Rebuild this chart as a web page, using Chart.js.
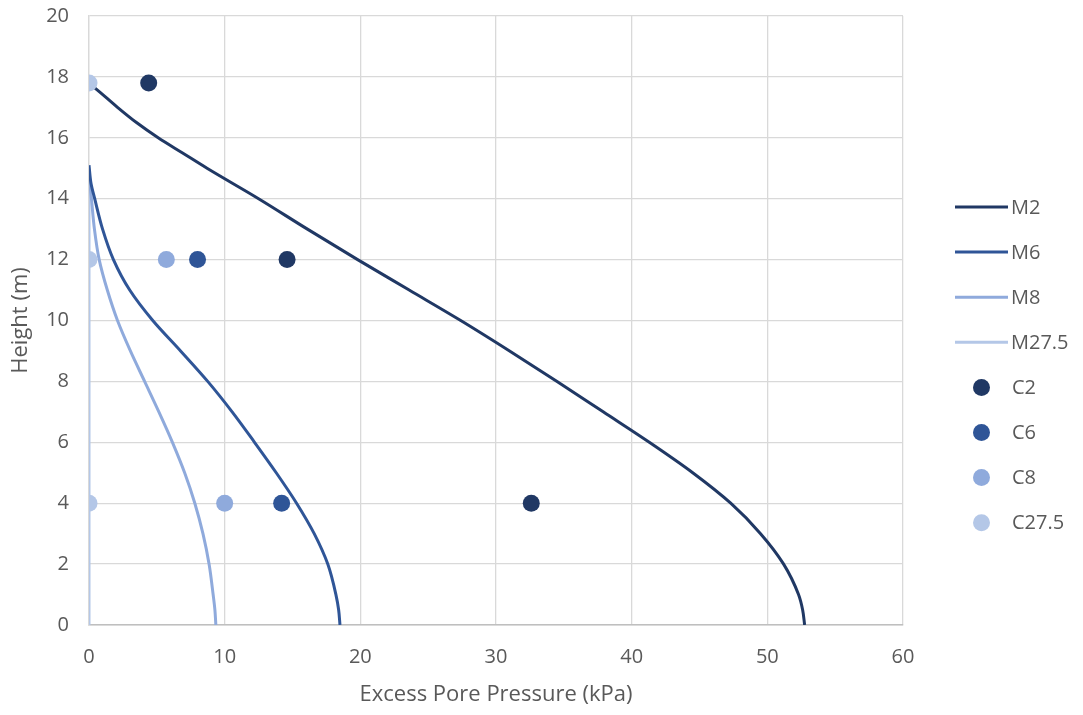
<!DOCTYPE html>
<html>
<head>
<meta charset="utf-8">
<script src="https://cdn.jsdelivr.net/npm/chart.js@4.4.1/dist/chart.umd.min.js"></script>
<style>
  html, body { margin: 0; padding: 0; background: #ffffff; }
  #wrap { width: 1083px; height: 715px; }
</style>
</head>
<body>
<div id="wrap"><canvas id="c" width="1083" height="715"></canvas></div>
<script>
// Model curves: height (m) and excess pore pressure (kPa)
const heightsM2 = [0, 0.5, 1, 2, 3, 4, 5, 6, 7, 8, 9, 10, 11, 12, 13, 14, 15, 15.5, 16, 16.5, 17, 17.5, 17.8];
const pressureM2 = [52.75, 52.6, 52.3, 51.2, 49.5, 47.3, 44.5, 41.3, 37.9, 34.5, 31.0, 27.4, 23.6, 19.8, 16.1, 12.5, 8.7, 6.9, 5.1, 3.5, 2.1, 0.8, 0];

const heightsM6 = [0, 0.5, 1, 2, 3, 4, 5, 6, 7, 8, 9, 10, 11, 12, 13, 14, 14.5, 15.1];
const pressureM6 = [18.5, 18.4, 18.2, 17.6, 16.6, 15.3, 13.8, 12.2, 10.55, 8.75, 6.75, 4.7, 3.0, 1.8, 1.0, 0.42, 0.15, 0];

const heightsM8 = [0, 0.5, 1, 2, 3, 4, 5, 6, 7, 8, 9, 10, 11, 12, 13, 14, 14.5, 14.9];
const pressureM8 = [9.35, 9.28, 9.15, 8.85, 8.4, 7.8, 7.05, 6.15, 5.15, 4.1, 3.05, 2.1, 1.35, 0.75, 0.4, 0.18, 0.07, 0];

const heightsM275 = [0, 14.9];
const pressureM275 = [0, 0];

// Measured points
const heightsC = [17.8, 12, 4];
const pressureC2 = [4.4, 14.6, 32.6];
const heightsC6 = [12, 4];
const pressureC6 = [8.0, 14.2];
const heightsC8 = [12, 4];
const pressureC8 = [5.7, 10.0];
const pressureC275 = [0, 0, 0];

// Axis ticks
const xTicks = [0, 10, 20, 30, 40, 50, 60];
const yTicks = [0, 2, 4, 6, 8, 10, 12, 14, 16, 18, 20];

const seriesLabels = ['M2', 'M6', 'M8', 'M27.5', 'C2', 'C6', 'C8', 'C27.5'];
const colors = ['#203864', '#2F5597', '#8FAADC', '#B4C7E7'];

function pairs(xs, ys) { return xs.map((x, i) => ({ x: x, y: ys[i] })); }

function lineSet(label, xs, ys, color, smooth) {
  return {
    label: label, data: pairs(xs, ys), showLine: true,
    borderColor: color, backgroundColor: color, borderWidth: 3,
    pointRadius: 0, pointHoverRadius: 0,
    cubicInterpolationMode: smooth ? 'monotone' : 'default', tension: 0,
    order: 2, kind: 'line'
  };
}
function pointSet(label, xs, ys, color) {
  return {
    label: label, data: pairs(xs, ys), showLine: false,
    borderColor: color, backgroundColor: color, borderWidth: 0,
    pointRadius: 8.5, pointHoverRadius: 8.5,
    order: 1, kind: 'point'
  };
}

const datasets = [
  lineSet(seriesLabels[0], pressureM2, heightsM2, colors[0], true),
  lineSet(seriesLabels[1], pressureM6, heightsM6, colors[1], true),
  lineSet(seriesLabels[2], pressureM8, heightsM8, colors[2], true),
  lineSet(seriesLabels[3], pressureM275, heightsM275, colors[3], false),
  pointSet(seriesLabels[4], pressureC2, heightsC, colors[0]),
  pointSet(seriesLabels[5], pressureC6, heightsC6, colors[1]),
  pointSet(seriesLabels[6], pressureC8, heightsC8, colors[2]),
  pointSet(seriesLabels[7], pressureC275, heightsC, colors[3])
];

const FONT = "'Open Sans', 'Liberation Sans', sans-serif";
const TEXT = '#595959';

// Legend at the right, drawn from the dataset list
const sideLegend = {
  id: 'sideLegend',
  afterDraw(chart, args, opts) {
    const ctx = chart.ctx;
    ctx.save();
    ctx.font = opts.fontSize + 'px ' + FONT;
    ctx.textBaseline = 'middle';
    chart.data.datasets.forEach((ds, i) => {
      const y = opts.top + i * opts.step;
      if (ds.kind === 'line') {
        ctx.strokeStyle = ds.borderColor;
        ctx.lineWidth = 3;
        ctx.beginPath();
        ctx.moveTo(opts.left, y);
        ctx.lineTo(opts.left + opts.lineLen, y);
        ctx.stroke();
        ctx.fillStyle = TEXT;
        ctx.fillText(ds.label, opts.left + opts.lineLen + 3, y + 1);
      } else {
        ctx.fillStyle = ds.backgroundColor;
        ctx.beginPath();
        ctx.arc(opts.left + opts.lineLen / 2, y, 8.5, 0, Math.PI * 2);
        ctx.fill();
        ctx.fillStyle = TEXT;
        ctx.fillText(ds.label, opts.left + opts.lineLen + 4, y + 1);
      }
    });
    ctx.restore();
  }
};

new Chart(document.getElementById('c'), {
  type: 'scatter',
  data: { datasets: datasets },
  plugins: [sideLegend],
  options: {
    indexAxis: 'y',
    responsive: false,
    animation: false,
    devicePixelRatio: 1,
    layout: { padding: { left: 0, right: 180, top: 16, bottom: 0 } },
    plugins: {
      legend: { display: false },
      tooltip: { enabled: false },
      sideLegend: { left: 955, lineLen: 53, top: 207, step: 45.1, fontSize: 20 }
    },
    scales: {
      x: {
        type: 'linear', min: 0, max: 60,
        afterBuildTicks(scale) { scale.ticks = xTicks.map(v => ({ value: v })); },
        afterFit(scale) { scale.height = 90; scale.paddingLeft = 0; scale.paddingRight = 0; },
        grid: { color: '#d9d9d9', lineWidth: 1.3, drawTicks: false },
        border: { color: '#bfbfbf', width: 1.5 },
        ticks: { color: TEXT, font: { family: FONT, size: 20 }, padding: 20 },
        title: {
          display: true, text: 'Excess Pore Pressure (kPa)', color: TEXT,
          font: { family: FONT, size: 22 }, padding: { top: 0, bottom: 7 }
        }
      },
      y: {
        type: 'linear', min: 0, max: 20,
        afterBuildTicks(scale) { scale.ticks = yTicks.map(v => ({ value: v })); },
        afterFit(scale) { scale.width = 89; scale.paddingTop = 0; scale.paddingBottom = 0; },
        grid: { color: '#d9d9d9', lineWidth: 1.3, drawTicks: false },
        border: { color: '#d9d9d9', width: 1.3 },
        ticks: { color: TEXT, font: { family: FONT, size: 20 }, padding: 20 },
        title: {
          display: true, text: 'Height (m)', color: TEXT,
          font: { family: FONT, size: 22 }, padding: { top: 8, bottom: 0 }
        }
      }
    }
  }
});
</script>
</body>
</html>
